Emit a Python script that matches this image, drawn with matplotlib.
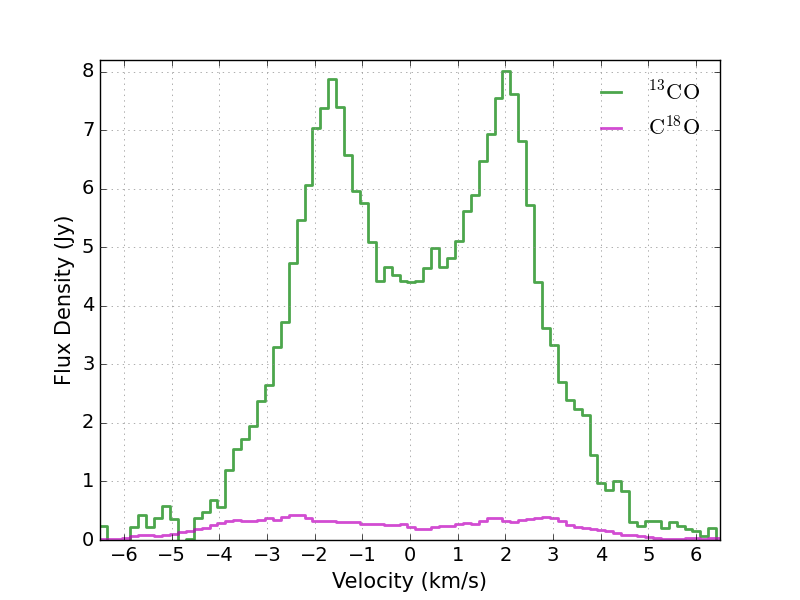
import numpy as np
import matplotlib
matplotlib.use("Agg")
import matplotlib.pyplot as plt

plt.style.use("classic")

# channel grid of the spectra (km/s)
v_start = -6.611
dv = 0.166

# 13CO flux density per channel (Jy)
flux_13co = [0.24, 0.24, -0.05, -0.05, -0.05, 0.23, 0.43, 0.22, 0.38, 0.58,
             0.36, -0.1, 0.01, 0.37, 0.47, 0.68, 0.57, 1.19, 1.56, 1.73,
             1.94, 2.37, 2.64, 3.29, 3.72, 4.73, 5.46, 6.06, 7.04, 7.38,
             7.87, 7.39, 6.57, 5.97, 5.75, 5.09, 4.42, 4.67, 4.52, 4.43,
             4.40, 4.42, 4.64, 4.98, 4.67, 4.81, 5.10, 5.62, 5.89, 6.47,
             6.94, 7.55, 8.01, 7.62, 6.82, 5.72, 4.40, 3.62, 3.33, 2.70,
             2.40, 2.23, 2.14, 1.46, 0.97, 0.86, 1.00, 0.83, 0.30, 0.24,
             0.33, 0.33, 0.20, 0.30, 0.24, 0.19, 0.16, 0.07, 0.20, -0.1]

# C18O flux density per channel (Jy)
flux_c18o = [0.02, 0.02, 0.02, 0.02, 0.04, 0.06, 0.08, 0.08, 0.07, 0.09,
             0.11, 0.13, 0.16, 0.18, 0.20, 0.25, 0.29, 0.32, 0.34, 0.32,
             0.33, 0.35, 0.37, 0.35, 0.40, 0.43, 0.43, 0.38, 0.33, 0.32,
             0.32, 0.30, 0.30, 0.30, 0.28, 0.28, 0.28, 0.25, 0.25, 0.27,
             0.22, 0.19, 0.19, 0.22, 0.24, 0.24, 0.28, 0.29, 0.28, 0.32,
             0.37, 0.37, 0.33, 0.30, 0.35, 0.36, 0.37, 0.40, 0.38, 0.32,
             0.25, 0.23, 0.21, 0.19, 0.17, 0.15, 0.12, 0.09, 0.08, 0.07,
             0.05, 0.03, 0.01, 0.02, 0.02, 0.03, 0.03, 0.02, 0.03, 0.03]

velocity = v_start + dv * np.arange(len(flux_13co))

fig = plt.figure(figsize=(8, 6), dpi=100)
ax = fig.add_subplot(111)

ax.step(velocity, flux_13co, where="mid", color="g", alpha=0.7, lw=2,
        label=r"$^{13}\mathrm{CO}$")
ax.step(velocity, flux_c18o, where="mid", color="m", alpha=0.7, lw=2,
        label=r"$\mathrm{C^{18}O}$")

ax.set_xlim(-6.5, 6.5)
ax.set_ylim(0, 8.2)
ax.set_xticks(np.arange(-6, 7, 1))
ax.set_xlabel("Velocity (km/s)", fontsize=15)
ax.set_ylabel("Flux Density (Jy)", fontsize=15)
ax.tick_params(labelsize=14)
ax.grid(True, color="0.55")
ax.legend(loc="upper right", frameon=False, fontsize=16,
          handlelength=1.5, handletextpad=0.9)

fig.savefig("out.png", facecolor="w")
